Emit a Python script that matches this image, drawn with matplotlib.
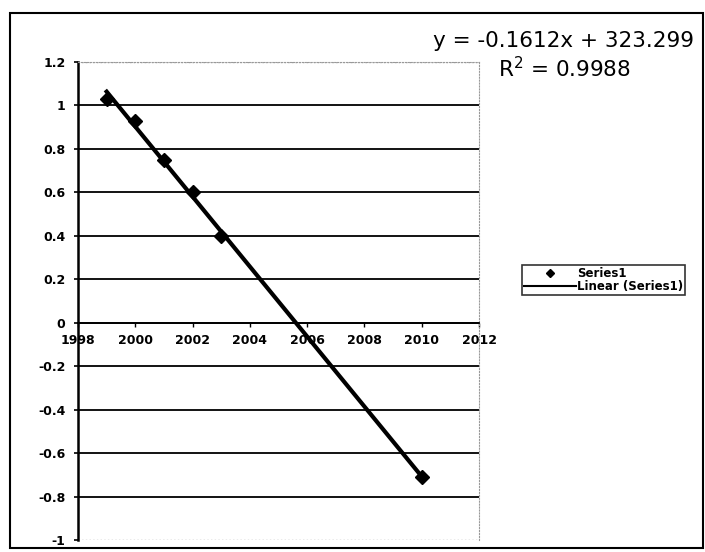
import numpy as np
import matplotlib
matplotlib.use("Agg")
import matplotlib.pyplot as plt
from matplotlib.patches import Rectangle
from matplotlib.lines import Line2D

plt.rcParams['font.family'] = ['DejaVu Sans']

# Data
years = [1999, 2000, 2001, 2002, 2003, 2010]
values = [1.03, 0.93, 0.75, 0.60, 0.40, -0.71]
x_ticks = [1998, 2000, 2002, 2004, 2006, 2008, 2010, 2012]
y_ticks = [-1, -0.8, -0.6, -0.4, -0.2, 0, 0.2, 0.4, 0.6, 0.8, 1, 1.2]
y_tick_labels = ['-1', '-0.8', '-0.6', '-0.4', '-0.2', '0', '0.2', '0.4', '0.6', '0.8', '1', '1.2']
eq_text = "y = -0.1612x + 323.299"
r2_text = "R$^2$ = 0.9988"
series_label = "Series1"
trend_label = "Linear (Series1)"

W, H = 705, 552
fig = plt.figure(figsize=(W / 100, H / 100), dpi=100)
fig.patch.set_facecolor('white')

ax = fig.add_axes([78 / W, (H - 540) / H, (479 - 78) / W, (540 - 62) / H])
ax.set_xlim(1998, 2012)
ax.set_ylim(-1, 1.2)

# gridlines (inner ones black, outer border dotted grey)
for yv in y_ticks[1:-1]:
    ax.axhline(yv, color='black', lw=1.3, zorder=1)
ax.axhline(y_ticks[0], color='#999999', lw=1.0, ls=':', zorder=1)
ax.axhline(y_ticks[-1], color='#999999', lw=1.0, ls=':', zorder=1)

# trend line
coef = np.polyfit(years, values, 1)
tx = np.array([years[0], years[-1]])
ax.plot(tx, np.polyval(coef, tx), color='black', lw=3, zorder=3)
ax.plot(years, values, ls='none', marker='D', ms=7, color='black', zorder=4)

# spines
ax.spines['top'].set_color('#999999')
ax.spines['top'].set_linestyle(':')
ax.spines['right'].set_color('#999999')
ax.spines['right'].set_linestyle(':')
ax.spines['left'].set_linewidth(1.8)
ax.spines['bottom'].set_position(('data', 0))
ax.spines['bottom'].set_linewidth(1.3)

ax.set_xticks(x_ticks)
ax.set_xticklabels([str(v) for v in x_ticks], fontsize=9, fontweight='bold')
ax.set_yticks(y_ticks)
ax.set_yticklabels(y_tick_labels, fontsize=9, fontweight='bold')
ax.tick_params(axis='y', direction='out', length=3, width=1.2, pad=6)
ax.tick_params(axis='x', direction='out', length=3, width=1.0, pad=5)

# trendline equation
fig.text(433 / W, 1 - 47 / H, eq_text, fontsize=15.5, ha='left', va='baseline')
fig.text(498 / W, 1 - 77 / H, r2_text, fontsize=15.5, ha='left', va='baseline')

# legend
handles = [Line2D([], [], ls='none', marker='D', ms=4, color='black'),
           Line2D([], [], color='black', lw=1.5)]
leg = fig.legend(handles, [series_label, trend_label], loc='upper left',
                 bbox_to_anchor=(522 / W, 1 - 265 / H), fontsize=8.5,
                 frameon=True, fancybox=False, edgecolor='black',
                 handlelength=4.4, handletextpad=0.15, borderpad=0.15,
                 labelspacing=0.0, borderaxespad=0)
leg.get_frame().set_linewidth(1.2)
for t in leg.get_texts():
    t.set_fontweight('bold')

# outer chart border
fig.add_artist(Rectangle((10 / W, (H - 548) / H), (703 - 10) / W, (548 - 13) / H,
                         transform=fig.transFigure, fill=False, ec='black', lw=1.5))

fig.savefig('out.png', dpi=100)
